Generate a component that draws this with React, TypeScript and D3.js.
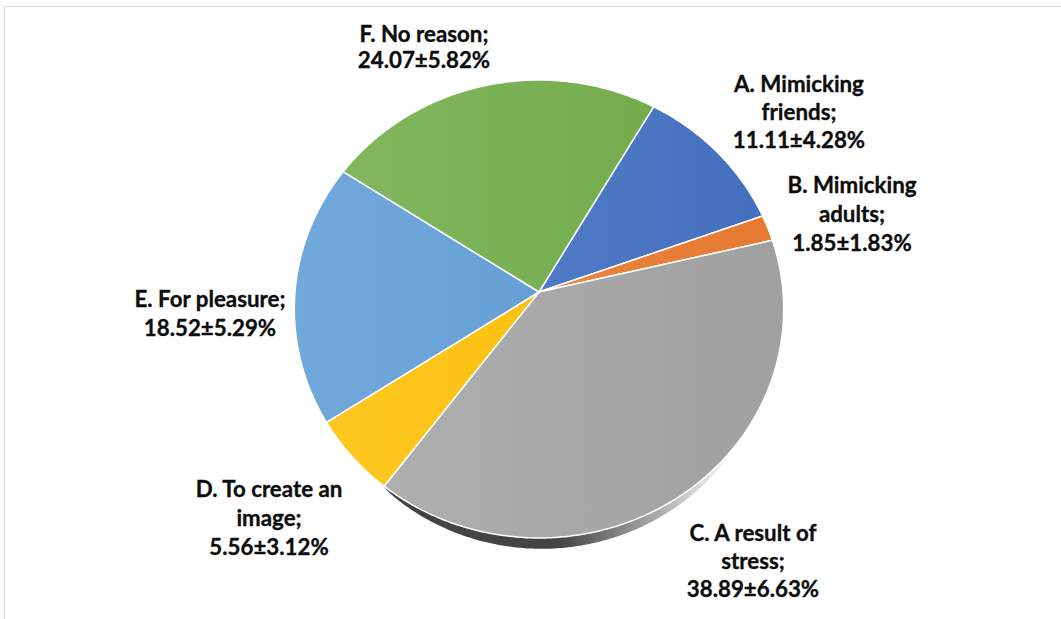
import React from "react";
import * as d3 from "d3";

const categories = [
  "A. Mimicking friends",
  "B. Mimicking adults",
  "C. A result of stress",
  "D. To create an image",
  "E. For pleasure",
  "F. No reason",
];
const labelLines = [
  ["A. Mimicking", "friends"],
  ["B. Mimicking", "adults"],
  ["C. A result of", "stress"],
  ["D. To create an", "image"],
  ["E. For pleasure"],
  ["F. No reason"],
];
const values = [11.11, 1.85, 38.89, 5.56, 18.52, 24.07];
const errors = [4.28, 1.83, 6.63, 3.12, 5.29, 5.82];
const colors = ["#4472C4", "#ED7D31", "#A5A5A5", "#FFC000", "#5B9BD5", "#70AD47"];

const W = 1061;
const H = 619;
const CX = 539;
const CY = 292;
const RX = 244;
const RY = 227.7;
const K = -0.0742;
const START = Math.PI / 6;

// label anchor (centre x, first baseline, line gap)
const labelPos = [
  { x: 799, y: 92, gap: 28 },
  { x: 852, y: 193, gap: 29 },
  { x: 753, y: 541, gap: 28 },
  { x: 269, y: 497, gap: 29 },
  { x: 210, y: 307, gap: 28.7 },
  { x: 424, y: 42, gap: 26 },
];
const FONT = 23;
const SX = 0.97;

function project(a: number): [number, number] {
  const u = Math.sin(a);
  const v = -Math.cos(a);
  const d = 1 + K * v;
  return [CX + (RX * u) / d, CY + (RY * v) / d];
}

function arcPoints(a0: number, a1: number): [number, number][] {
  const n = Math.max(2, Math.ceil(Math.abs(a1 - a0) / (Math.PI / 360)));
  const pts: [number, number][] = [];
  for (let i = 0; i <= n; i++) pts.push(project(a0 + ((a1 - a0) * i) / n));
  return pts;
}

export default function App() {
  const pie = d3
    .pie<number>()
    .sort(null)
    .value((d) => d)
    .startAngle(START)
    .endAngle(START + 2 * Math.PI);
  const arcs = pie(values);
  const line = d3.line();

  // shadow crescent under the front edge
  const s0 = (130 * Math.PI) / 180;
  const s1 = (217 * Math.PI) / 180;
  const inner = arcPoints(s0, s1);
  const outer = inner
    .map((p, i) => {
      const t = i / (inner.length - 1);
      const sh = 11 * Math.pow(Math.sin(Math.PI * t), 0.55);
      return [p[0], p[1] + sh] as [number, number];
    })
    .reverse();
  const shadowPath = line([...inner, ...outer]) + "Z";

  return (
    <svg
      width={W}
      height={H}
      style={{ position: "absolute", left: 0, top: 0, background: "#fff" }}
      fontFamily="Lato, 'Open Sans', sans-serif"
    >
      <defs>
        {arcs.map((a, i) => (
          <linearGradient
            key={i}
            id={`g${i}`}
            gradientUnits="userSpaceOnUse"
            x1={CX - RX}
            y1={0}
            x2={CX + RX}
            y2={0}
          >
            <stop offset="0" stopColor={d3.interpolateRgb(colors[i], "#ffffff")(0.14)} />
            <stop offset="1" stopColor={d3.interpolateRgb(colors[i], "#000000")(0.03)} />
          </linearGradient>
        ))}
        <linearGradient id="shadowG" gradientUnits="userSpaceOnUse" x1={560} y1={0} x2={735} y2={0}>
          <stop offset="0" stopColor="#444" stopOpacity={1} />
          <stop offset="1" stopColor="#444" stopOpacity={0} />
        </linearGradient>
      </defs>

      <path d={`M4.5,${H} V6.5 H${W}`} fill="none" stroke="#d9d9d9" strokeWidth={1} />

      <path d={shadowPath} fill="url(#shadowG)" />

      {arcs.map((a, i) => {
        const pts: [number, number][] = [[CX, CY], ...arcPoints(a.startAngle, a.endAngle)];
        return (
          <path
            key={categories[i]}
            d={line(pts) + "Z"}
            fill={`url(#g${i})`}
            stroke="#ffffff"
            strokeWidth={1.5}
            strokeLinejoin="round"
          />
        );
      })}

      {arcs.map((a, i) => {
        const lines = labelLines[i].map((l, j, arr) => (j === arr.length - 1 ? l + ";" : l));
        lines.push(`${values[i].toFixed(2)}±${errors[i].toFixed(2)}%`);
        const p = labelPos[i];
        return (
          <g key={i} transform={`translate(${p.x},${p.y}) scale(${SX},1)`}>
            {lines.map((t, j) => (
              <text
                key={j}
                x={0}
                y={j * p.gap}
                textAnchor="middle"
                fontSize={FONT}
                fontWeight={700}
                fill="#0d0d0d"
                stroke="#0d0d0d"
                strokeWidth={0.35}
              >
                {t}
              </text>
            ))}
          </g>
        );
      })}
    </svg>
  );
}
